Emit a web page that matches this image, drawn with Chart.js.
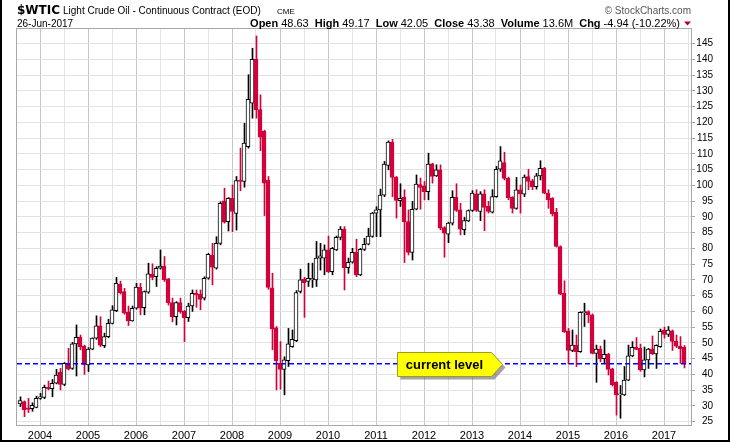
<!DOCTYPE html>
<html lang="en">
<head>
<meta charset="UTF-8" />
<title>$WTIC Light Crude Oil - Continuous Contract</title>
<script src="https://cdn.jsdelivr.net/npm/chart.js"></script>
<style>
  body { margin: 0; background: #fff; }
  #wrap { width: 730px; height: 442px; }
</style>
</head>
<body>
<div id="wrap"><canvas id="oil" width="730" height="442"></canvas></div>
<script>
// monthly candles, Aug 2003 .. Jun 2017
const startYear = 2003, startMonth = 8;

const opens = [
  30.6, 31.4, 29.4, 29.1, 29.5,
  32.4, 32.7, 35.9, 35.5, 37.2, 40.7, 36.8, 43.5, 41.9, 49.7, 51.8, 49.0,
  43.0, 48.0, 51.5, 55.4, 49.1, 52.0, 56.2, 60.2, 68.7, 66.3, 59.8, 57.0,
  61.0, 67.6, 61.2, 66.1, 71.8, 71.0, 73.7, 74.4, 70.3, 62.8, 58.3, 62.8,
  60.1, 58.0, 61.7, 65.7, 65.4, 64.2, 70.5, 77.9, 73.7, 81.6, 95.1, 88.5,
  95.9, 91.1, 101.7, 101.2, 112.3, 126.1, 140.0, 124.0, 117.1, 101.7, 67.5, 54.8,
  43.5, 41.6, 44.4, 48.8, 50.7, 66.3, 70.2, 69.5, 70.0, 70.0, 76.9, 76.9,
  79.5, 72.6, 79.5, 83.5, 86.1, 73.9, 75.6, 78.7, 71.6, 79.7, 81.3, 83.8,
  91.2, 92.2, 96.9, 106.3, 113.7, 102.6, 95.1, 96.2, 88.5, 78.7, 92.4, 100.2,
  99.8, 98.0, 106.8, 103.0, 104.9, 86.6, 84.5, 88.0, 96.2, 92.2, 85.9, 88.7,
  92.0, 97.3, 91.7, 97.3, 93.3, 91.5, 96.4, 105.1, 107.2, 102.2, 96.2, 92.7,
  98.6, 97.2, 102.8, 101.4, 99.6, 103.0, 105.4, 97.5, 95.9, 91.4, 80.6, 65.8,
  53.8, 47.6, 49.3, 47.2, 59.6, 59.9, 58.9, 46.7, 48.0, 45.0, 46.4, 41.8,
  37.5, 33.5, 33.5, 38.2, 45.9, 48.6, 48.3, 41.4, 44.6, 48.0, 46.5, 48.8,
  54.1, 52.7, 53.8, 50.6, 49.0, 48.63
];
const highs = [
  32.9, 31.6, 32.4, 31.0, 33.1,
  34.0, 36.6, 37.9, 38.4, 41.6, 41.9, 43.8, 48.3, 50.2, 55.7, 52.5, 49.3,
  48.5, 51.6, 58.6, 58.3, 53.1, 57.5, 61.8, 70.8, 69.6, 67.3, 61.7, 61.7,
  68.9, 68.9, 66.5, 75.3, 75.1, 74.2, 79.5, 77.4, 70.5, 64.2, 63.1, 64.2,
  60.3, 62.6, 66.8, 66.8, 66.8, 71.0, 78.4, 81.6, 83.7, 94.8, 99.1, 96.1,
  100.1, 102.8, 111.8, 119.7, 135.1, 143.5, 147.4, 128.7, 117.5, 102.8, 72.1, 55.2,
  50.4, 45.6, 54.6, 54.1, 66.6, 73.4, 70.8, 75.3, 75.3, 82.2, 81.6, 81.1,
  83.9, 80.3, 83.9, 86.9, 86.9, 76.9, 80.0, 82.9, 80.0, 83.2, 86.4, 91.4,
  93.2, 98.8, 107.6, 114.1, 114.6, 102.8, 100.5, 98.6, 92.2, 94.9, 103.3, 102.3,
  101.2, 110.2, 107.0, 106.5, 106.5, 86.9, 88.3, 98.3, 100.5, 94.3, 89.8, 92.2,
  98.3, 98.6, 98.0, 98.6, 94.9, 98.6, 106.0, 112.3, 110.5, 102.6, 96.4, 102.5,
  100.1, 103.3, 105.1, 101.9, 103.8, 107.8, 105.7, 98.6, 96.1, 92.7, 80.8, 69.7,
  54.6, 54.1, 52.5, 59.9, 62.6, 60.2, 59.2, 49.3, 49.0, 50.9, 46.7, 42.0,
  37.7, 36.5, 42.5, 49.3, 50.4, 51.7, 49.6, 48.7, 48.3, 52.2, 49.4, 54.4,
  55.0, 55.2, 54.1, 52.5, 52.0, 49.17
];
const lows = [
  29.8, 26.6, 27.9, 28.3, 29.4,
  32.1, 32.3, 35.1, 32.9, 37.0, 35.1, 36.4, 41.4, 41.6, 39.5, 47.8, 40.0,
  40.9, 47.8, 51.1, 48.8, 48.5, 51.6, 56.0, 59.9, 65.5, 59.1, 55.5, 56.9,
  60.7, 58.9, 58.9, 65.7, 70.0, 67.9, 73.4, 69.5, 62.0, 56.7, 55.7, 59.4,
  50.4, 56.8, 60.0, 61.3, 60.5, 63.6, 70.2, 68.4, 73.4, 81.1, 88.0, 85.5,
  85.3, 85.8, 98.3, 99.4, 111.8, 121.3, 121.3, 111.0, 90.4, 67.0, 47.8, 35.1,
  35.3, 33.5, 42.5, 48.6, 50.4, 65.8, 58.1, 67.9, 67.6, 67.9, 73.1, 71.6,
  72.3, 71.6, 79.3, 82.7, 66.8, 72.1, 75.3, 71.0, 71.3, 79.3, 81.1, 83.5,
  83.7, 83.7, 96.4, 104.9, 96.4, 89.6, 93.3, 75.5, 77.9, 76.3, 92.2, 92.4,
  95.4, 95.4, 100.7, 102.8, 85.9, 77.2, 81.8, 87.4, 91.7, 84.3, 84.3, 88.5,
  91.7, 91.7, 88.8, 85.6, 91.2, 91.2, 96.2, 104.4, 101.7, 95.4, 91.2, 92.4,
  91.2, 96.4, 98.6, 98.6, 98.8, 101.7, 97.3, 92.7, 90.3, 80.4, 65.3, 53.3,
  43.3, 47.2, 42.5, 47.0, 55.2, 56.4, 46.5, 37.5, 44.0, 43.7, 39.8, 36.3,
  27.1, 26.1, 33.3, 38.0, 45.6, 47.8, 41.0, 39.2, 41.9, 46.3, 41.9, 48.6,
  51.5, 52.0, 47.6, 48.5, 43.5, 42.05
];
const closes = [
  31.7, 28.7, 28.9, 30.2, 32.4,
  32.9, 35.9, 35.5, 37.2, 39.8, 36.8, 43.5, 41.7, 49.7, 51.8, 48.8, 43.2,
  48.0, 51.5, 55.4, 49.3, 52.0, 56.2, 60.5, 68.9, 65.9, 59.4, 57.0, 61.0,
  67.7, 61.0, 66.3, 71.9, 70.8, 73.7, 74.4, 70.0, 62.8, 58.3, 62.8, 59.9,
  58.0, 61.7, 65.7, 65.2, 63.8, 70.5, 78.1, 74.0, 81.6, 94.3, 88.3, 95.9,
  91.7, 101.5, 101.2, 113.4, 127.3, 140.0, 124.0, 115.3, 100.7, 67.6, 54.4, 44.4,
  41.6, 44.6, 49.7, 51.1, 66.0, 70.0, 69.1, 70.5, 70.5, 76.9, 77.6, 79.5,
  72.6, 80.0, 83.5, 86.1, 73.9, 75.6, 78.7, 71.6, 79.7, 81.3, 83.9, 91.2,
  92.2, 96.9, 106.7, 113.7, 102.5, 95.2, 95.9, 88.5, 78.7, 92.4, 100.4, 99.3,
  98.0, 106.7, 102.8, 104.9, 86.4, 84.8, 88.0, 96.2, 92.0, 86.1, 88.8, 92.0,
  97.5, 92.0, 97.3, 93.0, 91.7, 96.4, 105.1, 107.8, 102.2, 96.1, 92.7, 98.6,
  97.3, 102.6, 101.2, 99.6, 103.0, 105.4, 97.5, 95.4, 90.9, 80.6, 65.5, 53.6,
  47.6, 49.3, 47.2, 59.7, 59.9, 58.9, 46.7, 48.0, 45.0, 46.4, 41.6, 36.7,
  33.5, 33.7, 38.2, 45.9, 48.6, 47.9, 41.4, 44.6, 48.0, 46.5, 49.2, 53.7,
  52.7, 54.1, 50.5, 49.0, 48.2, 43.38
];

const years = [2004, 2005, 2006, 2007, 2008, 2009, 2010, 2011, 2012, 2013, 2014, 2015, 2016, 2017];
const priceTicks = [25, 30, 35, 40, 45, 50, 55, 60, 65, 70, 75, 80, 85, 90, 95, 100, 105, 110, 115, 120, 125, 130, 135, 140, 145];
const currentLevel = 43.38;
const quote = [['Open', '48.63'], ['High', '49.17'], ['Low', '42.05'], ['Close', '43.38'], ['Volume', '13.6M'], ['Chg', '-4.94 (-10.22%)']];

// x position = months since Jan 2004
const months = opens.map((_, i) => (startYear - 2004) * 12 + (startMonth - 1) + i);
const isUp = closes.map((c, i) => c > opens[i]);

const RED = '#d3003a';
const FONT = '"Liberation Sans", Arial, sans-serif';
const X_MIN = -5.75, X_MAX = 162.75;
// wick axis is shifted half a pixel so 1px wicks land on whole pixels
const WICK_SHIFT = 0.125;

// plot frame, header texts, outer border
const frame = {
  id: 'frame',
  beforeDatasetsDraw(chart) {
    const { ctx, chartArea: a } = chart;
    ctx.save();
    ctx.strokeStyle = '#a8a8a8';
    ctx.lineWidth = 1;
    ctx.strokeRect(a.left - 0.5, a.top - 0.5, a.right - a.left + 1, a.bottom - a.top + 1);
    ctx.restore();
  },
  afterDraw(chart) {
    const ctx = chart.ctx;
    ctx.save();
    ctx.fillStyle = '#000';
    ctx.textBaseline = 'alphabetic';
    ctx.font = 'bold 12px "DejaVu Sans", Verdana, sans-serif';
    ctx.fillText('$WTIC', 17, 14);
    ctx.font = '10px ' + FONT;
    ctx.fillText('Light Crude Oil - Continuous Contract (EOD)', 63, 14);
    ctx.font = '8px ' + FONT;
    ctx.fillText('CME', 277, 14);
    ctx.font = '10px ' + FONT;
    ctx.fillText('26-Jun-2017', 17, 27);

    ctx.fillStyle = '#555';
    ctx.textAlign = 'right';
    ctx.fillText('\u00A9 StockCharts.com', 691, 14);

    // quote line, right aligned
    ctx.textAlign = 'left';
    const parts = [];
    quote.forEach(([k, v], i) => {
      parts.push({ t: k, f: 'bold 11px ' + FONT, gap: 3 });
      parts.push({ t: v, f: '11px ' + FONT, gap: i < quote.length - 1 ? 6 : 0 });
    });
    let total = 0;
    parts.forEach(p => { ctx.font = p.f; p.w = ctx.measureText(p.t).width; total += p.w + p.gap; });
    let x = 680 - total;
    ctx.fillStyle = '#000';
    parts.forEach(p => { ctx.font = p.f; ctx.fillText(p.t, x, 27); x += p.w + p.gap; });
    ctx.fillStyle = '#b0002e';
    ctx.beginPath();
    ctx.moveTo(684, 21.5); ctx.lineTo(691, 21.5); ctx.lineTo(687.5, 25.5); ctx.closePath();
    ctx.fill();

    // outer black border
    ctx.fillStyle = '#000';
    ctx.fillRect(0, 0, 2, 442);
    ctx.fillRect(728, 0, 2, 442);
    ctx.fillRect(0, 440, 730, 2);
    ctx.restore();
  }
};

const callout = {
  id: 'callout',
  afterDatasetsDraw(chart) {
    const { ctx, scales: { x, y } } = chart;
    const tipX = Math.round(x.getPixelForValue(115.5)) + 0.5;
    const midY = Math.round(y.getPixelForValue(currentLevel)) + 0.5;
    const h = 24, w = 94, nose = 11;
    const left = tipX - nose - w, top = midY - h / 2;
    const shape = (dx, dy) => {
      ctx.beginPath();
      ctx.moveTo(left + dx, top + dy);
      ctx.lineTo(tipX - nose + dx, top + dy);
      ctx.lineTo(tipX + dx, midY + dy);
      ctx.lineTo(tipX - nose + dx, top + h + dy);
      ctx.lineTo(left + dx, top + h + dy);
      ctx.closePath();
    };
    ctx.save();
    ctx.fillStyle = 'rgba(90,90,90,0.55)';
    shape(3, 3); ctx.fill();
    ctx.fillStyle = '#ffff00';
    ctx.strokeStyle = '#9a9a30';
    ctx.lineWidth = 1;
    shape(0, 0); ctx.fill(); ctx.stroke();
    ctx.fillStyle = '#000';
    ctx.font = 'bold 13px ' + FONT;
    ctx.textAlign = 'center';
    ctx.textBaseline = 'middle';
    ctx.fillText('current level', left + w / 2, midY + 1);
    ctx.restore();
  }
};

new Chart(document.getElementById('oil'), {
  type: 'bar',
  data: {
    datasets: [
      {
        type: 'line',
        data: [{ x: X_MIN, y: currentLevel }, { x: X_MAX, y: currentLevel }],
        borderColor: '#0000ff',
        borderWidth: 1.5,
        borderDash: [5, 3],
        pointRadius: 0,
        order: 0
      },
      {
        label: 'body',
        data: months.map((m, i) => ({ x: m, y: [opens[i], closes[i]] })),
        backgroundColor: isUp.map(u => u ? '#ffffff' : RED),
        borderColor: isUp.map(u => u ? '#000000' : RED),
        borderWidth: 1,
        borderSkipped: false,
        barThickness: 4,
        minBarLength: 1,
        grouped: false,
        order: 1
      },
      {
        label: 'wick',
        xAxisID: 'xw',
        data: months.map((m, i) => ({ x: m, y: [lows[i], highs[i]] })),
        backgroundColor: isUp.map(u => u ? '#000000' : RED),
        borderWidth: 0,
        barThickness: 1,
        grouped: false,
        order: 2
      }
    ]
  },
  options: {
    responsive: false,
    animation: false,
    events: [],
    layout: { padding: { left: 17, top: 29, right: 17, bottom: 0 } },
    plugins: { legend: { display: false }, tooltip: { enabled: false } },
    scales: {
      x: {
        type: 'linear',
        min: X_MIN,
        max: X_MAX,
        offset: false,
        afterBuildTicks: s => {
          const t = [];
          years.forEach(yr => {
            const v = (yr - 2004) * 12;
            t.push({ value: v });
            if (v + 6 <= X_MAX) t.push({ value: v + 6 });
          });
          s.ticks = t;
        },
        afterFit: s => { s.height = 17; },
        grid: {
          offset: false,
          drawTicks: false,
          color: c => (c.tick && c.tick.value % 12 === 0) ? '#c6c6c6' : '#e4e4e4'
        },
        border: { display: false },
        ticks: {
          autoSkip: false,
          maxRotation: 0,
          padding: 4,
          color: '#000',
          font: { family: FONT, size: 11 },
          callback: v => v % 12 === 0 ? String(2004 + v / 12) : ''
        }
      },
      xw: {
        type: 'linear',
        display: false,
        min: X_MIN - WICK_SHIFT,
        max: X_MAX - WICK_SHIFT,
        offset: false
      },
      y: {
        position: 'right',
        min: 23.95,
        max: 149.6,
        afterBuildTicks: s => { s.ticks = priceTicks.map(v => ({ value: v })); },
        afterFit: s => { s.width = 22; },
        grid: { color: '#e2e2e2', tickLength: 4, tickColor: '#a8a8a8' },
        border: { display: false },
        ticks: {
          padding: 1,
          crossAlign: 'far',
          color: '#000',
          font: { family: FONT, size: 10 }
        }
      }
    }
  },
  plugins: [frame, callout]
});
</script>
</body>
</html>
